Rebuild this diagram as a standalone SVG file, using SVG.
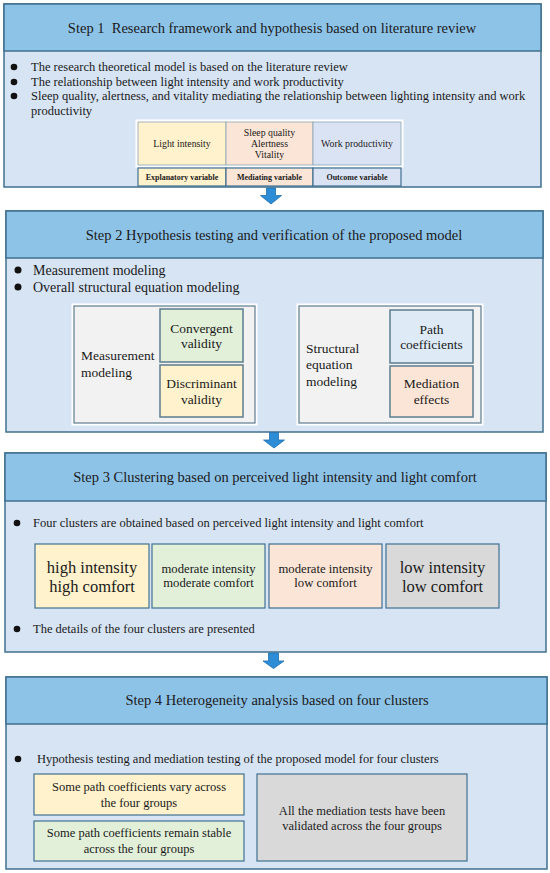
<svg xmlns="http://www.w3.org/2000/svg" width="550" height="873" viewBox="0 0 550 873" font-family="'Liberation Serif', 'DejaVu Serif', serif">
<style>
text{font-family:'Liberation Serif','DejaVu Serif',serif;fill:#1a1a1a}
.hdr{fill:#8EC3E8;stroke:#41708F;stroke-width:1.5}
.body{fill:#D7E4F4;stroke:#41708F;stroke-width:1.5}
.t{font-size:14.5px;text-anchor:middle}
.b{font-size:12.5px}
.b14{font-size:14px}
.c{text-anchor:middle}
.dot{fill:#111}
.sub{stroke:#5E7C8E;stroke-width:1.5}
.outer{fill:#F2F2F2;stroke:#5E7C8E;stroke-width:1.2}
.wht{fill:none;stroke:#fff;stroke-width:3}
.cl{stroke:#41708F;stroke-width:1.2}
.y{fill:#FFF2CC}.g{fill:#E2F0D9}.p{fill:#FBE5D6}.lb{fill:#DEEBF7}.gr{fill:#D9D9D9}.sb{fill:#DAE3F3}
.arr{fill:#2D8CD6;stroke:#1E6FAF;stroke-width:0.8}
</style>

<g id="step1">
<rect class="body" x="4" y="4" width="537" height="183"/>
<rect class="hdr" x="4" y="4" width="537" height="47"/>
<text class="t" x="272" y="33" xml:space="preserve">Step 1  Research framework and hypothesis based on literature review</text>
<circle class="dot" cx="14" cy="67" r="3.3"/>
<circle class="dot" cx="14" cy="82" r="3.3"/>
<circle class="dot" cx="14" cy="96" r="3.3"/>
<text class="b" x="31" y="71">The research theoretical model is based on the literature review</text>
<text class="b" x="31" y="86">The relationship between light intensity and work productivity</text>
<text class="b" x="31" y="100">Sleep quality, alertness, and vitality mediating the relationship between lighting intensity and work</text>
<text class="b" x="31" y="115">productivity</text>
</g>

<g id="step1-table">
<rect class="wht" x="137" y="121" width="265" height="45"/>
<rect class="y" x="138" y="122" width="88" height="43" style="stroke:#8AA3B3;stroke-width:0.8"/>
<rect class="p" x="226" y="122" width="87" height="43" style="stroke:#8AA3B3;stroke-width:0.8"/>
<rect class="sb" x="313" y="122" width="88" height="43" style="stroke:#8AA3B3;stroke-width:0.8"/>
<text class="c" x="182" y="147" font-size="9.8">Light intensity</text>
<text class="c" x="269.5" y="136" font-size="9.8">Sleep quality</text>
<text class="c" x="269.5" y="147" font-size="9.8">Alertness</text>
<text class="c" x="269.5" y="158" font-size="9.8">Vitality</text>
<text class="c" x="357" y="147" font-size="9.8">Work productivity</text>
<rect class="y cl" x="138" y="168" width="88" height="18"/>
<rect class="p cl" x="226" y="168" width="87" height="18"/>
<rect class="sb cl" x="313" y="168" width="88" height="18"/>
<text class="c" x="182" y="180" font-size="8" font-weight="bold">Explanatory variable</text>
<text class="c" x="269.5" y="180" font-size="8" font-weight="bold">Mediating variable</text>
<text class="c" x="357" y="180" font-size="8" font-weight="bold">Outcome variable</text>
</g>

<g id="step2">
<rect class="body" x="6" y="211" width="537" height="221"/>
<rect class="hdr" x="6" y="211" width="537" height="47"/>
<text class="t" x="274" y="240">Step 2 Hypothesis testing and verification of the proposed model</text>
<circle class="dot" cx="18" cy="270" r="3.5"/>
<circle class="dot" cx="18" cy="287" r="3.5"/>
<text class="b14" x="33" y="275">Measurement modeling</text>
<text class="b14" x="33" y="292">Overall structural equation modeling</text>
</g>

<g id="measurement">
<rect class="wht" x="73" y="305" width="183" height="119"/>
<rect class="outer" x="74" y="306" width="181" height="117"/>
<text x="81" y="360" font-size="13.5">Measurement</text>
<text x="81" y="377" font-size="13.5">modeling</text>
<rect class="g sub" x="160" y="309" width="83" height="53"/>
<text class="c" x="201.5" y="333" font-size="13.5">Convergent</text>
<text class="c" x="201.5" y="348" font-size="13.5">validity</text>
<rect class="y sub" x="160" y="365" width="83" height="52"/>
<text class="c" x="201.5" y="388" font-size="13.5">Discriminant</text>
<text class="c" x="201.5" y="404" font-size="13.5">validity</text>
</g>

<g id="structural">
<rect class="wht" x="298" y="305" width="184" height="119"/>
<rect class="outer" x="299" y="306" width="182" height="117"/>
<text x="306" y="353" font-size="13.5">Structural</text>
<text x="306" y="369" font-size="13.5">equation</text>
<text x="306" y="386" font-size="13.5">modeling</text>
<rect class="lb sub" x="390" y="310" width="83" height="53"/>
<text class="c" x="431.5" y="334" font-size="13.5">Path</text>
<text class="c" x="431.5" y="349" font-size="13.5">coefficients</text>
<rect class="p sub" x="390" y="366" width="83" height="51"/>
<text class="c" x="431.5" y="388" font-size="13.5">Mediation</text>
<text class="c" x="431.5" y="404" font-size="13.5">effects</text>
</g>

<g id="step3">
<rect class="body" x="5" y="453" width="541" height="199"/>
<rect class="hdr" x="5" y="453" width="541" height="48"/>
<text class="t" x="275" y="482">Step 3 Clustering based on perceived light intensity and light comfort</text>
<circle class="dot" cx="17" cy="523" r="3.3"/>
<text class="b" x="33" y="527">Four clusters are obtained based on perceived light intensity and light comfort</text>
<circle class="dot" cx="17" cy="629" r="3.3"/>
<text class="b" x="33" y="633">The details of the four clusters are presented</text>
</g>

<g id="cluster1">
<rect class="y cl" x="35" y="544" width="114" height="64"/>
<text class="c" x="92" y="573" font-size="16.5">high intensity</text>
<text class="c" x="92" y="592" font-size="16.5">high comfort</text>
</g>
<g id="cluster2">
<rect class="g cl" x="152" y="544" width="113" height="64"/>
<text class="c" x="208.5" y="573" font-size="12.7">moderate intensity</text>
<text class="c" x="208.5" y="587" font-size="12.7">moderate comfort</text>
</g>
<g id="cluster3">
<rect class="p cl" x="269" y="544" width="113" height="64"/>
<text class="c" x="325.5" y="573" font-size="12.7">moderate intensity</text>
<text class="c" x="325.5" y="587" font-size="12.7">low comfort</text>
</g>
<g id="cluster4">
<rect class="gr cl" x="386" y="544" width="113" height="64"/>
<text class="c" x="442.5" y="573" font-size="16.5">low intensity</text>
<text class="c" x="442.5" y="592" font-size="16.5">low comfort</text>
</g>

<g id="step4">
<rect class="body" x="6" y="677" width="541" height="192"/>
<rect class="hdr" x="6" y="677" width="541" height="47"/>
<text class="t" x="277" y="705">Step 4 Heterogeneity analysis based on four clusters</text>
<circle class="dot" cx="18" cy="759" r="3.3"/>
<text class="b" x="37" y="763">Hypothesis testing and mediation testing of the proposed model for four clusters</text>
</g>

<g id="vary">
<rect class="y cl" x="34" y="774" width="210" height="41"/>
<text class="c" x="139" y="791" font-size="12.5">Some path coefficients vary across</text>
<text class="c" x="139" y="807" font-size="12.5">the four groups</text>
</g>
<g id="stable">
<rect class="g cl" x="34" y="821" width="210" height="40"/>
<text class="c" x="139" y="837" font-size="12.5">Some path coefficients remain stable</text>
<text class="c" x="139" y="853" font-size="12.5">across the four groups</text>
</g>
<g id="mediation-tests">
<rect class="gr cl" x="257" y="774" width="210" height="87"/>
<text class="c" x="362" y="815" font-size="12.5">All the mediation tests have been</text>
<text class="c" x="362" y="830" font-size="12.5">validated across the four groups</text>
</g>

<g id="connectors">
<path class="arr" d="M266.5,188 H275.5 V195.5 H281.5 L271,204 L260.5,195.5 H266.5 Z"/>
<path class="arr" d="M269.5,432.5 H278.5 V440 H284.5 L274,448 L263.5,440 H269.5 Z"/>
<path class="arr" d="M268.5,653 H278.5 V661 H284 L273.5,668.5 L263,661 H268.5 Z"/>
</g>
</svg>
